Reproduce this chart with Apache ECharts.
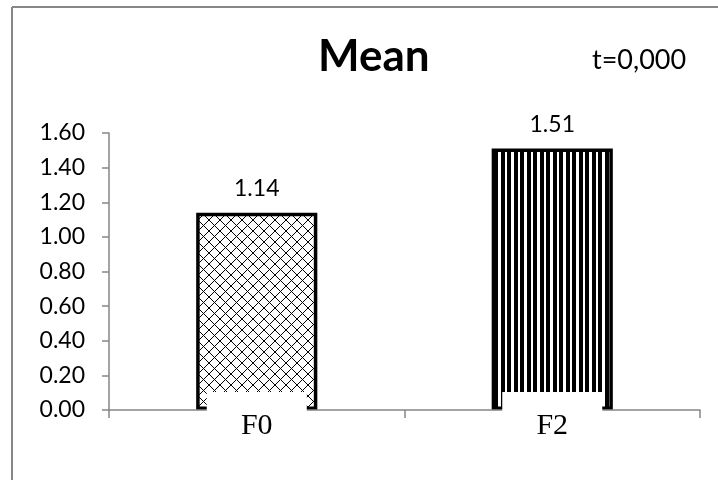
<!DOCTYPE html>
<html>
<head>
<meta charset="utf-8">
<script src="https://cdn.jsdelivr.net/npm/echarts@6/dist/echarts.min.js"></script>
<style>
html,body{margin:0;padding:0;background:#fff;}
#chart{width:718px;height:480px;}
</style>
</head>
<body>
<div id="chart"></div>
<script>
const categories = ['F0', 'F2'];
const means = [1.14, 1.51];
const yMin = 0, yMax = 1.6, yStep = 0.2;
const titleText = 'Mean';
const noteText = 't=0,000';

function crossPattern() {
  const n = 11;
  const c = document.createElement('canvas');
  c.width = n; c.height = n;
  const ctx = c.getContext('2d');
  ctx.fillStyle = '#fff'; ctx.fillRect(0, 0, n, n);
  ctx.fillStyle = '#000';
  for (let i = 0; i < n; i++) {
    ctx.fillRect(i, i, 1, 1);
    ctx.fillRect(n - 1 - i, i, 1, 1);
  }
  return c;
}
function stripePattern() {
  const c = document.createElement('canvas');
  c.width = 13; c.height = 4;
  const ctx = c.getContext('2d');
  ctx.fillStyle = '#fff'; ctx.fillRect(0, 0, 13, 4);
  ctx.fillStyle = '#000';
  ctx.fillRect(0, 0, 4, 4);
  ctx.fillRect(7, 0, 4, 4);
  return c;
}
const patterns = [crossPattern(), stripePattern()];

const chart = echarts.init(document.getElementById('chart'), null, {renderer: 'canvas'});
const gray = '#868686';
const option = {
  backgroundColor: '#fff',
  animation: false,
  title: [
    {text: titleText, left: 313, top: 30,
     textStyle: {fontFamily: 'Lato', fontWeight: 'bold', fontSize: 44, color: '#000'}},
    {text: noteText, left: 587, top: 42,
     textStyle: {fontFamily: 'Lato', fontWeight: 'normal', fontSize: 27, color: '#000'}}
  ],
  graphic: [
    {type: 'line', shape: {x1: 12, y1: 7, x2: 718, y2: 7}, style: {stroke: gray, lineWidth: 2}},
    {type: 'line', shape: {x1: 12, y1: 7, x2: 12, y2: 480}, style: {stroke: gray, lineWidth: 2}}
  ],
  grid: {left: 109, right: 18, top: 133, bottom: 70, containLabel: false},
  xAxis: {
    type: 'category',
    data: categories,
    z: 5,
    axisLine: {lineStyle: {color: gray, width: 1.5}},
    axisTick: {show: true, length: 8, lineStyle: {color: gray, width: 1.5}},
    axisLabel: {
      margin: -18,
      backgroundColor: '#fff',
      width: 100,
      align: 'center',
      padding: [19, 0, 8, 0],
      fontFamily: 'Liberation Serif',
      fontSize: 30,
      color: '#000'
    }
  },
  yAxis: {
    type: 'value',
    min: yMin, max: yMax, interval: yStep,
    splitLine: {show: false},
    axisLine: {show: true, lineStyle: {color: gray, width: 1.5}},
    axisTick: {show: true, length: 7, lineStyle: {color: gray, width: 1.5}},
    axisLabel: {
      margin: 24,
      formatter: v => v.toFixed(2),
      fontFamily: 'Lato', fontSize: 23, color: '#000'
    }
  },
  series: [{
    type: 'bar',
    barWidth: '41%',
    data: means.map((v, i) => ({
      value: v,
      itemStyle: {color: {image: patterns[i], repeat: 'repeat'}}
    })),
    itemStyle: {borderColor: '#000', borderWidth: 3.5},
    label: {
      show: true, position: 'top', distance: 13,
      formatter: p => p.value.toFixed(2),
      fontFamily: 'Lato', fontSize: 23, color: '#000'
    }
  }]
};
chart.setOption(option);
</script>
</body>
</html>
